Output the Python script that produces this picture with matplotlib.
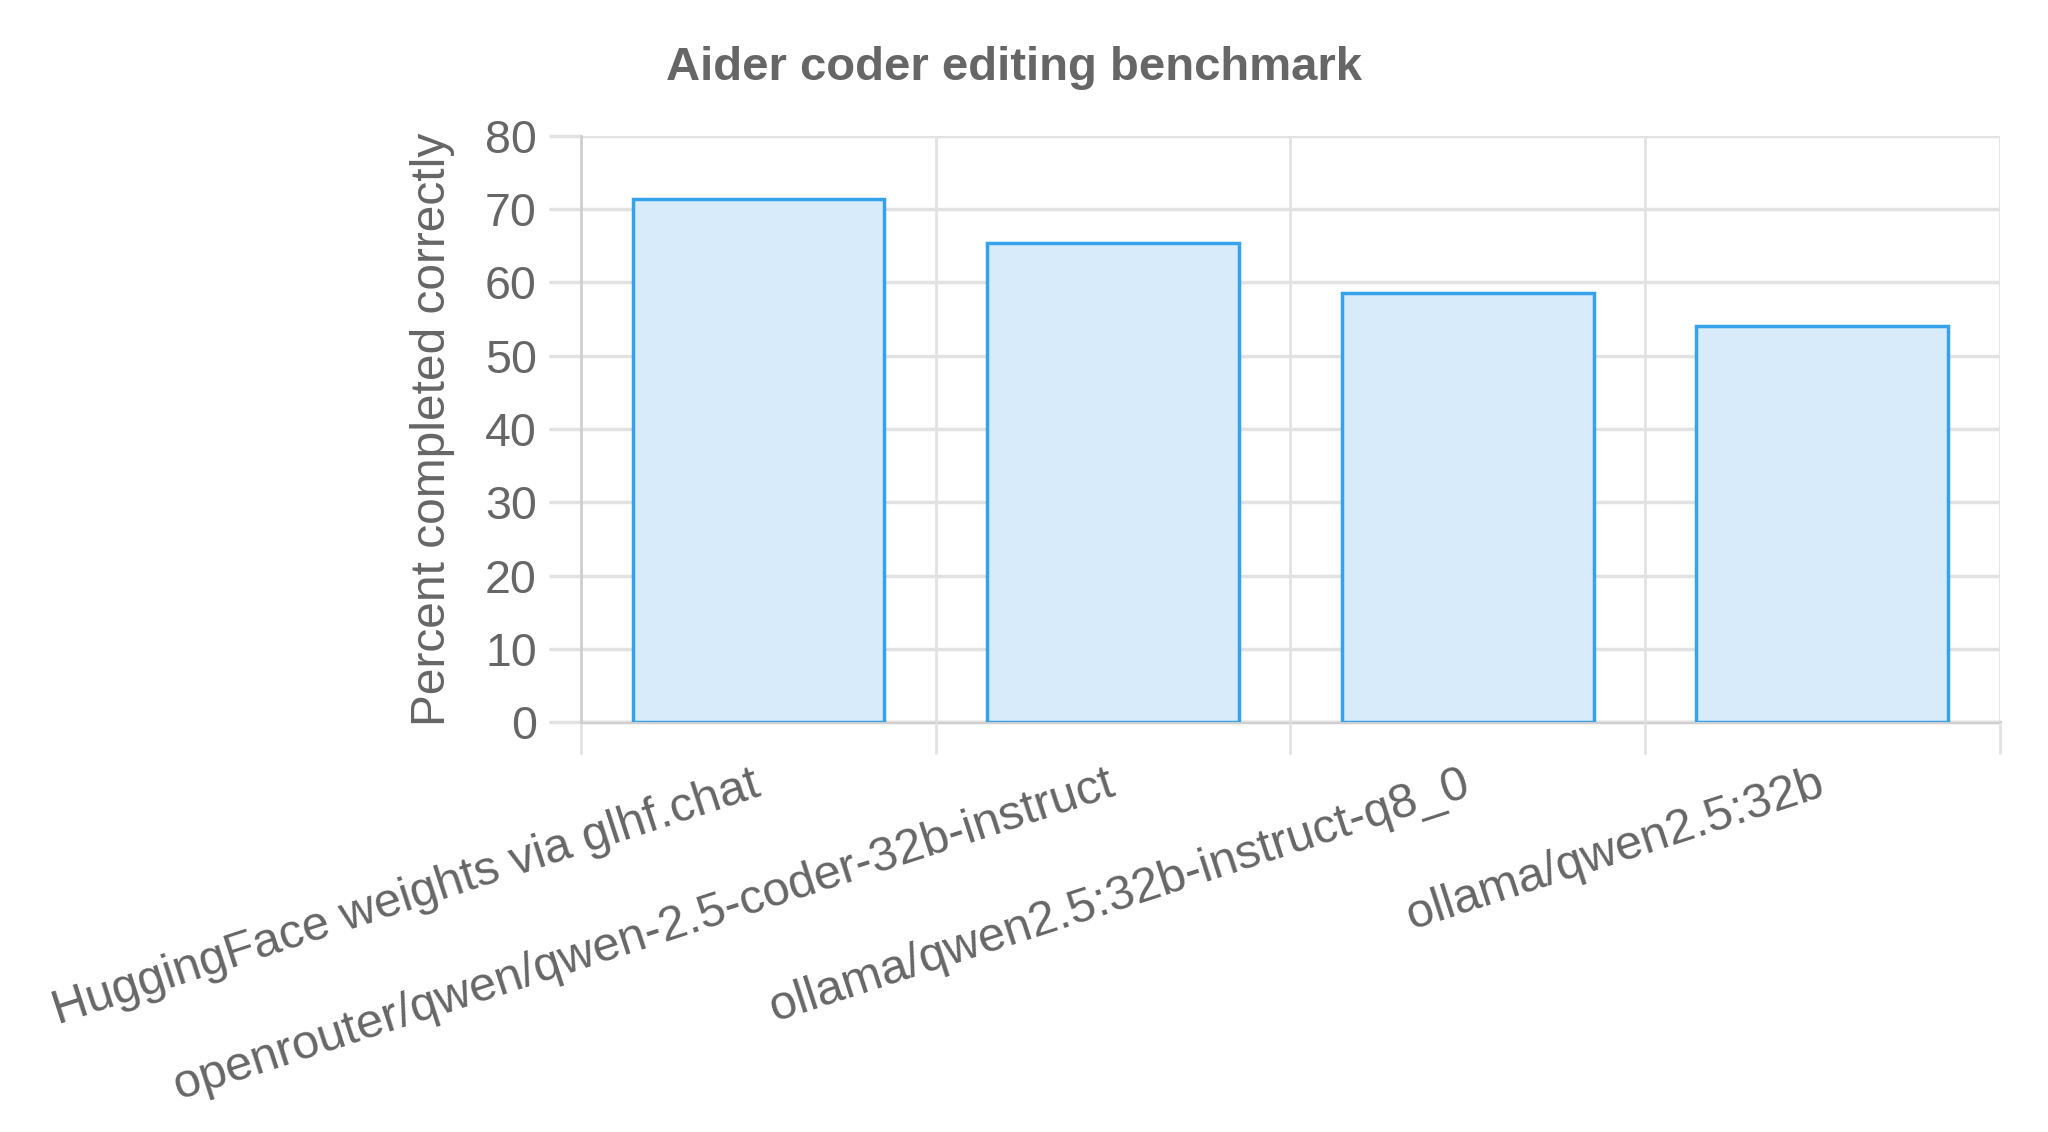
import matplotlib.pyplot as plt

# Datos
modelos = [
    "HuggingFace weights via glhf.chat",
    "openrouter/qwen/qwen-2.5-coder-32b-instruct",
    "ollama/qwen2.5:32b-instruct-q8_0",
    "ollama/qwen2.5:32b",
]
porcentaje = [71.4, 65.4, 58.6, 54.1]
y_ticks = [0, 10, 20, 30, 40, 50, 60, 70, 80]

texto = "#666666"
rejilla = "#e2e2e2"
borde = "#cfcfcf"

plt.rcParams["font.family"] = ["Liberation Sans", "DejaVu Sans"]

fig = plt.figure(figsize=(20.48, 11.32), dpi=100)
ax = fig.add_axes([0.2838, 0.362, 0.6926, 0.518])

pos = list(range(len(modelos)))
ax.bar(pos, porcentaje, width=0.71, color="#d7ebfa", edgecolor="#36a2eb",
       linewidth=2.5, zorder=3)

ax.set_xlim(-0.5, len(modelos) - 0.5)
ax.set_ylim(0, 80)
ax.set_yticks(y_ticks)
ax.set_yticklabels([str(v) for v in y_ticks])

# rejilla vertical en los limites de categoria (ticks menores)
ax.set_xticks([p - 0.5 for p in pos] + [len(modelos) - 0.5], minor=True)
ax.set_xticks(pos)
ax.set_xticklabels(modelos, rotation=18, ha="right", va="center",
                   rotation_mode="anchor")
ax.grid(True, which="minor", axis="x", color=rejilla, linewidth=2, zorder=0)
ax.grid(True, which="major", axis="y", color=rejilla, linewidth=2.5, zorder=0)

ax.tick_params(axis="x", which="major", length=0, pad=44, labelsize=35,
               labelcolor=texto)
ax.tick_params(axis="x", which="minor", length=23, width=2, color=rejilla)
ax.tick_params(axis="y", length=23, width=2.5, color=rejilla, pad=9,
               labelsize=33.5, labelcolor=texto)

for s in ax.spines.values():
    s.set_visible(False)
# linea base y eje izquierdo algo mas oscuros
ax.spines["bottom"].set_visible(True)
ax.spines["bottom"].set_color(borde)
ax.spines["bottom"].set_linewidth(2.5)
ax.spines["left"].set_visible(True)
ax.spines["left"].set_color(borde)
ax.spines["left"].set_linewidth(2)
ax.spines["bottom"].set_zorder(1)

ax.set_ylabel("Percent completed correctly", fontsize=34.5, color=texto)
ax.yaxis.set_label_coords(-0.089, 0.5)

fig.text(0.495, 0.94, "Aider coder editing benchmark", ha="center",
         va="center", fontsize=34, fontweight="bold", color=texto)

fig.savefig("out.png", dpi=100, facecolor="white")
